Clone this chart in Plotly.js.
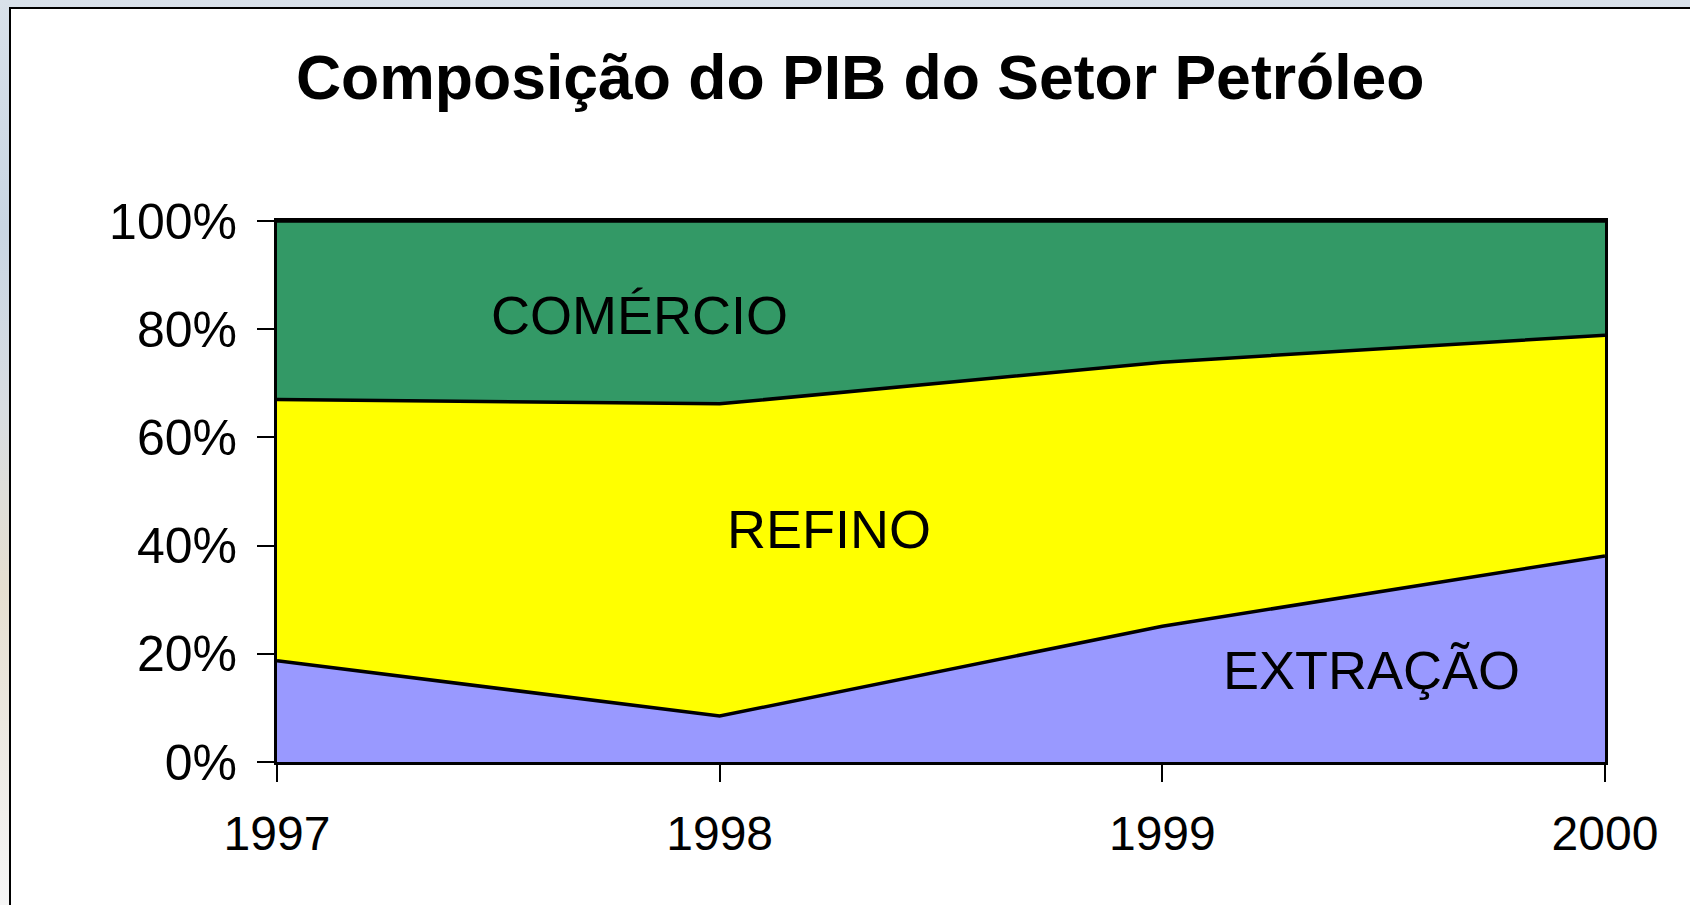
<!DOCTYPE html>
<html>
<head>
<meta charset="utf-8">
<script src="https://cdn.plot.ly/plotly-3.0.1.min.js"></script>
<style>
  html, body { margin:0; padding:0; width:1690px; height:905px; overflow:hidden; }
  body { background: linear-gradient(180deg, #d9e1ea 0%, #c9d6e3 25%, #d8dde2 45%, #e6dfd0 65%, #ece8e0 80%, #f6f6f6 100%); position:relative; }
  #frame { position:absolute; left:9px; top:7px; width:1700px; height:920px; background:#ffffff; border:2.5px solid #000; }
  #chart { position:absolute; left:0; top:0; width:1690px; height:905px; }
</style>
</head>
<body>
<div id="frame"></div>
<div id="chart"></div>
<script>
// Data (percent shares of the oil sector GDP)
const years = [1997, 1998, 1999, 2000];
const extracao = [18.7, 8.5, 25.1, 38.1];
const refino = [48.3, 57.7, 48.8, 40.8];
const comercio = [33.0, 33.8, 26.1, 21.1];
const yTicks = [0, 20, 40, 60, 80, 100];
const yTickLabels = ["0%", "20%", "40%", "60%", "80%", "100%"];
const xTickLabels = ["1997", "1998", "1999", "2000"];
const seriesNames = ["EXTRAÇÃO", "REFINO", "COMÉRCIO"];
const titleText = "Composição do PIB do Setor Petróleo";

const FONT = "Liberation Sans, Arial, Helvetica, sans-serif";
const lineStyle = {color: "#000000", width: 3.5, shape: "linear"};

const traces = [
  {x: years, y: extracao, name: seriesNames[0], stackgroup: "one", mode: "lines",
   line: lineStyle, fillcolor: "#9999FF"},
  {x: years, y: refino, name: seriesNames[1], stackgroup: "one", mode: "lines",
   line: lineStyle, fillcolor: "#FFFF00"},
  {x: years, y: comercio, name: seriesNames[2], stackgroup: "one", mode: "lines",
   line: lineStyle, fillcolor: "#339966"}
];

const layout = {
  width: 1690, height: 905,
  paper_bgcolor: "rgba(0,0,0,0)",
  plot_bgcolor: "#ffffff",
  margin: {l: 277, r: 85, t: 221, b: 143, pad: 0},
  showlegend: false,
  font: {family: FONT, color: "#000000"},
  title: {
    text: "<b>" + titleText + "</b>",
    font: {family: FONT, size: 62.5, color: "#000000"},
    xref: "container", x: 0.509, xanchor: "center",
    yref: "container", y: 0.915, yanchor: "middle"
  },
  xaxis: {
    range: [1997, 2000], tickvals: years, ticktext: xTickLabels,
    showgrid: false, zeroline: false,
    showline: true, linecolor: "#000000", linewidth: 3, mirror: true,
    ticks: "outside", ticklen: 17, tickwidth: 2, tickcolor: "#000000",
    tickfont: {family: FONT, size: 48, color: "#000000"},
    ticklabelstandoff: 10
  },
  yaxis: {
    range: [0, 100], tickvals: yTicks, ticktext: yTickLabels,
    showgrid: false, zeroline: false,
    showline: true, linecolor: "#000000", linewidth: 3, mirror: true,
    ticks: "outside", ticklen: 17, tickwidth: 2, tickcolor: "#000000",
    tickfont: {family: FONT, size: 50, color: "#000000"},
    ticklabelstandoff: 10
  },
  annotations: [
    {text: seriesNames[2], xref: "paper", yref: "paper", x: 0.273, y: 0.826,
     xanchor: "center", yanchor: "middle", showarrow: false,
     font: {family: FONT, size: 54, color: "#000000"}},
    {text: seriesNames[1], xref: "paper", yref: "paper", x: 0.4155, y: 0.431,
     xanchor: "center", yanchor: "middle", showarrow: false,
     font: {family: FONT, size: 54, color: "#000000"}},
    {text: seriesNames[0], xref: "paper", yref: "paper", x: 0.824, y: 0.170,
     xanchor: "center", yanchor: "middle", showarrow: false,
     font: {family: FONT, size: 54, color: "#000000"}}
  ]
};

Plotly.newPlot("chart", traces, layout, {displayModeBar: false, staticPlot: true});
</script>
</body>
</html>
